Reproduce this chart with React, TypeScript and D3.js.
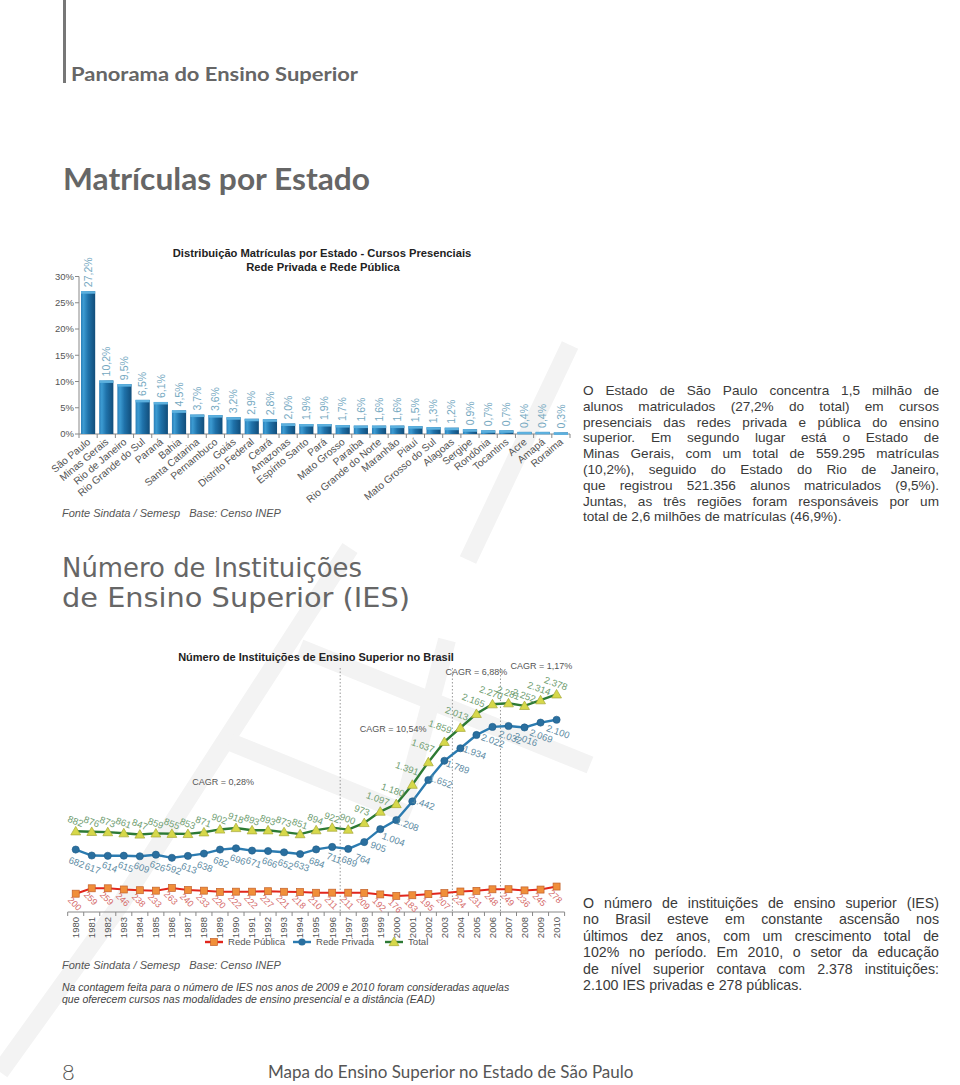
import React, { useLayoutEffect, useRef } from 'react';
import * as d3 from 'd3';

const states = ['São Paulo', 'Minas Gerais', 'Rio de Janeiro', 'Rio Grande do Sul', 'Paraná', 'Bahia', 'Santa Catarina', 'Pernambuco', 'Goiás', 'Distrito Federal', 'Ceará', 'Amazonas', 'Espírito Santo', 'Pará', 'Mato Grosso', 'Paraíba', 'Rio Grande do Norte', 'Maranhão', 'Piauí', 'Mato Grosso do Sul', 'Alagoas', 'Sergipe', 'Rondônia', 'Tocantins', 'Acre', 'Amapá', 'Roraima'];
const stateShares = [27.2, 10.2, 9.5, 6.5, 6.1, 4.5, 3.7, 3.6, 3.2, 2.9, 2.8, 2.0, 1.9, 1.9, 1.7, 1.6, 1.6, 1.6, 1.5, 1.3, 1.2, 0.9, 0.7, 0.7, 0.4, 0.4, 0.3];
const barTicks = [0, 5, 10, 15, 20, 25, 30];

const years = [1980, 1981, 1982, 1983, 1984, 1985, 1986, 1987, 1988, 1989, 1990, 1991, 1992, 1993, 1994, 1995, 1996, 1997, 1998, 1999, 2000, 2001, 2002, 2003, 2004, 2005, 2006, 2007, 2008, 2009, 2010];
const publicIES = [200, 259, 259, 246, 238, 233, 263, 240, 233, 220, 222, 222, 227, 221, 218, 210, 211, 211, 209, 192, 176, 183, 195, 207, 224, 231, 248, 249, 236, 245, 278];
const privateIES = [682, 617, 614, 615, 609, 626, 592, 613, 638, 682, 696, 671, 666, 652, 633, 684, 711, 689, 764, 905, 1004, 1208, 1442, 1652, 1789, 1934, 2022, 2032, 2016, 2069, 2100];
const totalIES = [882, 876, 873, 861, 847, 859, 855, 853, 871, 902, 918, 893, 893, 873, 851, 894, 922, 900, 973, 1097, 1180, 1391, 1637, 1859, 2013, 2165, 2270, 2281, 2252, 2314, 2378];
const cagrTexts = ['CAGR = 0,28%', 'CAGR = 10,54%', 'CAGR = 6,88%', 'CAGR = 1,17%'];
const legendNames = ['Rede Pública', 'Rede Privada', 'Total'];

const text1 = [
  'O Estado de São Paulo concentra 1,5 milhão de',
  'alunos matriculados (27,2% do total) em cursos',
  'presenciais das redes privada e pública do ensino',
  'superior. Em segundo lugar está o Estado de',
  'Minas Gerais, com um total de 559.295 matrículas',
  '(10,2%), seguido do Estado do Rio de Janeiro,',
  'que registrou 521.356 alunos matriculados (9,5%).',
  'Juntas, as três regiões foram responsáveis por um',
  'total de 2,6 milhões de matrículas (46,9%).',
];
const text2 = [
  'O número de instituições de ensino superior (IES)',
  'no Brasil esteve em constante ascensão nos',
  'últimos dez anos, com um crescimento total de',
  '102% no período. Em 2010, o setor da educação',
  'de nível superior contava com 2.378 instituições:',
  '2.100 IES privadas e 278 públicas.',
];

const SANS = '"Liberation Sans", Arial, Helvetica, sans-serif';
const HEAD = 'Lato, "Open Sans", sans-serif';

function Paragraph({ lines, x, y, width, lh, fs }: { lines: string[]; x: number; y: number; width: number; lh: number; fs: number }) {
  const ref = useRef<SVGGElement>(null);
  useLayoutEffect(() => {
    const g = ref.current;
    if (!g) return;
    const nodes = Array.from(g.querySelectorAll('text')) as SVGTextElement[];
    nodes.forEach((t, i) => {
      if (i === nodes.length - 1) return;
      t.style.wordSpacing = '0px';
      const natural = t.getComputedTextLength();
      const spaces = (lines[i].match(/ /g) || []).length;
      if (spaces > 0) t.style.wordSpacing = `${(width - natural) / spaces}px`;
    });
  }, [lines, width]);
  return (
    <g ref={ref} fontFamily={SANS} fontSize={fs} fill="#3a3a3a">
      {lines.map((l, i) => (
        <text key={i} x={x} y={y + i * lh}>{l}</text>
      ))}
    </g>
  );
}

export default function App() {
  const fmtN = d3.formatLocale({ decimal: ',', thousands: '.', grouping: [3], currency: ['', ''] }).format(',d');
  const fmtPct = (v: number) => v.toFixed(1).replace('.', ',') + '%';

  // ---------- bar chart ----------
  const xBar = d3.scaleBand<string>().domain(states).range([79, 570]).paddingInner(0.22).paddingOuter(0.11);
  const yBar = d3.scaleLinear().domain([0, 30]).range([434, 276.5]);
  const step = xBar.step();
  const barBoundaries = d3.range(states.length + 1).map(i => 79 + i * step);

  // ---------- line chart ----------
  const xY = d3.scaleBand<number>().domain(years).range([67.7, 564.6]);
  const cx = (yr: number) => (xY(yr) as number) + xY.bandwidth() / 2;
  const xCont = d3.scaleLinear().domain([1980, 2010]).range([cx(1980), cx(2010)]);
  const yL = d3.scaleLinear().domain([0, 2600]).range([912, 674]);
  const lineGen = d3.line<number>().x((_, i) => cx(years[i])).y(d => yL(d));
  const yrBound = d3.range(years.length + 1).map(i => 67.7 + i * xY.step());
  const tri = d3.symbol(d3.symbolTriangle, 42)() as string;

  const slope = (arr: number[], i: number) => {
    const a = arr[Math.max(0, i - 1)], b = arr[Math.min(arr.length - 1, i + 1)];
    return Math.abs(yL(b) - yL(a)) / 2;
  };

  const dividers = [1996.5, 2003.5, 2006.5];
  const cagrPos = [[1989.2, 1390], [1999.8, 1966], [2005.0, 2589], [2009.05, 2655]];

  const stripes = [
    [[0, 1072], [120, 905], [200, 780], [350, 548]],
    [[300, 648], [590, 765]],
    [[447, 640], [405, 800]],
    [[570, 345], [468, 560]],
    [[230, 742], [410, 815]],
  ];

  return (
    <svg width={960} height={1085} viewBox="0 0 960 1085" style={{ position: 'absolute', left: 0, top: 0, background: '#fff' }}>
      <defs>
        <linearGradient id="barGrad" x1="0" x2="1" y1="0" y2="0">
          <stop offset="0" stopColor="#2b7fb8" />
          <stop offset="0.18" stopColor="#3c9bd2" />
          <stop offset="0.5" stopColor="#1f72aa" />
          <stop offset="1" stopColor="#114d7a" />
        </linearGradient>
      </defs>
      <g stroke="#f3f3f3" strokeWidth={18} fill="none" strokeLinecap="butt">
        {stripes.map((s, i) => <path key={i} d={d3.line()(s as [number, number][]) as string} />)}
      </g>

      {/* header */}
      <rect x={63} y={0} width={3} height={83} fill="#777" />
      <text x={71} y={81} fontFamily={HEAD} fontWeight={700} fontSize={19} fill="#666" textLength={287} lengthAdjust="spacingAndGlyphs">Panorama do Ensino Superior</text>
      <text x={63} y={190} fontFamily={HEAD} fontWeight={700} fontSize={30} fill="#666" textLength={307} lengthAdjust="spacingAndGlyphs">Matrículas por Estado</text>

      {/* bar chart */}
      <g fontFamily={SANS}>
        <text x={322} y={257} textAnchor="middle" fontWeight={700} fontSize={11.2} fill="#222">Distribuição Matrículas por Estado - Cursos Presenciais</text>
        <text x={323} y={271} textAnchor="middle" fontWeight={700} fontSize={11.2} fill="#222">Rede Privada e Rede Pública</text>
        <line x1={79} x2={79} y1={yBar(30)} y2={yBar(0)} stroke="#888" />
        {barTicks.map(t => (
          <g key={t}>
            <line x1={75} x2={79} y1={yBar(t)} y2={yBar(t)} stroke="#888" />
            <text x={74} y={yBar(t)} dy="0.35em" textAnchor="end" fontSize={9.5} fill="#555">{t}%</text>
          </g>
        ))}
        <line x1={79} x2={570} y1={yBar(0)} y2={yBar(0)} stroke="#888" />
        {barBoundaries.map((b, i) => <line key={i} x1={b} x2={b} y1={434} y2={438} stroke="#888" />)}
        {states.map((s, i) => {
          const x = xBar(s) as number, w = xBar.bandwidth(), y = yBar(stateShares[i]);
          return (
            <g key={s}>
              <rect x={x} y={y} width={w} height={434 - y} fill="url(#barGrad)" />
              <rect x={x} y={y} width={w} height={2.5} fill="#5cb0de" />
              <text transform={`translate(${x + w / 2},${y - 4}) rotate(-90)`} dy="0.35em" fontSize={10.5} fill="#74a8bf">{fmtPct(stateShares[i])}</text>
              <text transform={`translate(${x + w / 2 + 3},${443}) rotate(-40)`} textAnchor="end" fontSize={10.2} fill="#555">{s}</text>
            </g>
          );
        })}
        <text x={62} y={517} fontStyle="italic" fontSize={11} fill="#555">Fonte Sindata / Semesp{'\u00a0\u00a0\u00a0'}Base: Censo INEP</text>
      </g>

      <Paragraph lines={text1} x={583} y={395} width={356} lh={15.8} fs={13.6} />

      {/* section 2 heading */}
      <g fontFamily='"DejaVu Sans", sans-serif' fontSize={27} fill="#666">
        <text x={62} y={577} textLength={300} lengthAdjust="spacingAndGlyphs">Número de Instituições</text>
        <text x={62} y={607} textLength={348} lengthAdjust="spacingAndGlyphs">de Ensino Superior (IES)</text>
      </g>

      {/* line chart */}
      <g fontFamily={SANS}>
        <text x={316} y={661} textAnchor="middle" fontWeight={700} fontSize={11} fill="#222">Número de Instituições de Ensino Superior no Brasil</text>
        {dividers.map(d => (
          <line key={d} x1={xCont(d)} x2={xCont(d)} y1={668} y2={912} stroke="#999" strokeDasharray="1.5,2" />
        ))}
        {cagrTexts.map((t, i) => (
          <text key={t} x={xCont(cagrPos[i][0])} y={yL(cagrPos[i][1])} textAnchor="middle" fontSize={9} fill="#555">{t}</text>
        ))}
        <line x1={67.7} x2={564.6} y1={912} y2={912} stroke="#888" />
        {yrBound.map((b, i) => <line key={i} x1={b} x2={b} y1={912} y2={916} stroke="#888" />)}
        {years.map(yr => (
          <text key={yr} transform={`translate(${cx(yr)},917) rotate(-90)`} dy="0.35em" textAnchor="end" fontSize={9.5} fill="#555">{yr}</text>
        ))}

        <path d={lineGen(totalIES) as string} fill="none" stroke="#2d7a34" strokeWidth={2.4} />
        <path d={lineGen(privateIES) as string} fill="none" stroke="#2b7bb0" strokeWidth={2.4} />
        <path d={lineGen(publicIES) as string} fill="none" stroke="#e1261c" strokeWidth={2} />

        {totalIES.map((v, i) => (
          <path key={i} d={tri} transform={`translate(${cx(years[i])},${yL(v) + 0.8})`} fill="#d6d84a" stroke="#a7a838" strokeWidth={0.7} />
        ))}
        {privateIES.map((v, i) => (
          <circle key={i} cx={cx(years[i])} cy={yL(v)} r={3.6} fill="#2a6f9f" stroke="#1f5d88" strokeWidth={0.6} />
        ))}
        {publicIES.map((v, i) => (
          <rect key={i} x={cx(years[i]) - 3.5} y={yL(v) - 3.5} width={7} height={7} fill="#f08f3a" stroke="#c2602a" strokeWidth={0.7} />
        ))}

        {totalIES.map((v, i) => {
          const s = slope(totalIES, i);
          return <text key={i} transform={`translate(${cx(years[i]) - 0.25 * s},${yL(v) - 10 - 0.3 * s}) rotate(20)`} dy="0.35em" textAnchor="middle" fontSize={9.5} fill="#6e9d70">{fmtN(v)}</text>;
        })}
        {privateIES.map((v, i) => {
          const s = slope(privateIES, i);
          return <text key={i} transform={`translate(${cx(years[i]) + 2 - 0.35 * s},${yL(v) + 11 + 0.6 * s}) rotate(20)`} dy="0.35em" textAnchor="middle" fontSize={9.5} fill="#5b8aa3">{fmtN(v)}</text>;
        })}
        {publicIES.map((v, i) => (
          <text key={i} transform={`translate(${cx(years[i]) - 1},${yL(v) + 10}) rotate(45)`} dy="0.35em" textAnchor="middle" fontSize={9} fill="#d56b6b">{fmtN(v)}</text>
        ))}

        {legendNames.map((n, i) => {
          const lx = [205, 293, 385][i];
          const col = ['#e1261c', '#2b7bb0', '#2d7a34'][i];
          const mx = lx + 9;
          return (
            <g key={n}>
              <line x1={lx} x2={lx + 18} y1={942} y2={942} stroke={col} strokeWidth={2.4} />
              {i === 0 && <rect x={mx - 3.5} y={938.5} width={7} height={7} fill="#f08f3a" stroke="#c2602a" strokeWidth={0.7} />}
              {i === 1 && <circle cx={mx} cy={942} r={3.6} fill="#2a6f9f" />}
              {i === 2 && <path d={tri} transform={`translate(${mx},${942.8})`} fill="#d6d84a" stroke="#a7a838" strokeWidth={0.7} />}
              <text x={lx + 23} y={942} dy="0.35em" fontSize={9.6} fill="#555">{n}</text>
            </g>
          );
        })}
        <text x={62} y={969} fontStyle="italic" fontSize={11} fill="#555">Fonte Sindata / Semesp{'\u00a0\u00a0\u00a0'}Base: Censo INEP</text>
        <text x={62} y={991} fontStyle="italic" fontSize={10.5} fill="#444">Na contagem feita para o número de IES nos anos de 2009 e 2010 foram consideradas aquelas</text>
        <text x={62} y={1003} fontStyle="italic" fontSize={10.5} fill="#444">que oferecem cursos nas modalidades de ensino presencial e a distância (EAD)</text>
      </g>

      <Paragraph lines={text2} x={583} y={908} width={356} lh={16.4} fs={14.2} />

      {/* footer */}
      <text x={62} y={1080} fontFamily={HEAD} fontWeight={300} fontSize={22} fill="#555">8</text>
      <text x={268} y={1078} fontFamily={HEAD} fontWeight={400} fontSize={17} fill="#555">Mapa do Ensino Superior no Estado de São Paulo</text>
    </svg>
  );
}
